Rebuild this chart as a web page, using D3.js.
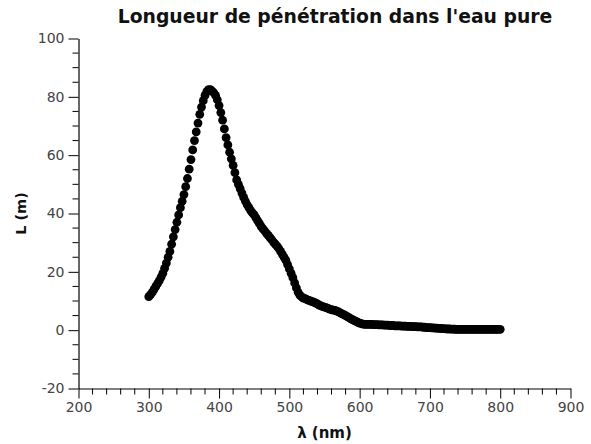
<!DOCTYPE html>
<html>
<head>
<meta charset="utf-8">
<script src="https://cdn.jsdelivr.net/npm/d3@7"></script>
<style>
  html, body { margin: 0; padding: 0; background: #fff; }
  svg { display: block; }
  text { font-family: "DejaVu Sans", sans-serif; }
</style>
</head>
<body>
<svg id="chart" width="591" height="444"></svg>
<script>
// ---- data ----
const title = "Longueur de pénétration dans l'eau pure";
const xLabel = "λ (nm)";
const yLabel = "L (m)";
const xTicks = [200, 300, 400, 500, 600, 700, 800, 900];
const yTicks = [-20, 0, 20, 40, 60, 80, 100];

const wavelength = [
  300,302.5,305,307.5,310,312.5,315,317.5,320,322.5,325,327.5,330,332.5,335,337.5,340,342.5,345,347.5,
  350,352.5,355,357.5,360,362.5,365,367.5,370,372.5,375,377.5,380,382.5,385,387.5,390,392.5,395,397.5,
  400,402.5,405,407.5,410,412.5,415,417.5,420,422.5,425,427.5,430,432.5,435,437.5,440,442.5,445,447.5,
  450,452.5,455,457.5,460,462.5,465,467.5,470,472.5,475,477.5,480,482.5,485,487.5,490,492.5,495,497.5,
  500,502.5,505,507.5,510,512.5,515,517.5,520,522.5,525,527.5,530,532.5,535,537.5,540,542.5,545,547.5,
  550,552.5,555,557.5,560,562.5,565,567.5,570,572.5,575,577.5,580,582.5,585,587.5,590,592.5,595,597.5,
  600,602.5,605,607.5,610,612.5,615,617.5,620,622.5,625,627.5,630,632.5,635,637.5,640,642.5,645,647.5,
  650,652.5,655,657.5,660,662.5,665,667.5,670,672.5,675,677.5,680,682.5,685,687.5,690,692.5,695,697.5,
  700,702.5,705,707.5,710,712.5,715,717.5,720,722.5,725,727.5,730,732.5,735,737.5,740,742.5,745,747.5,
  750,752.5,755,757.5,760,762.5,765,767.5,770,772.5,775,777.5,780,782.5,785,787.5,790,792.5,795,797.5,
  800
];
const penetration = [
  11.5,12.2,13.0,14.0,15.0,16.0,17.0,18.2,19.5,21.2,23.0,25.0,27.0,29.5,32.0,34.5,37.0,39.5,42.0,44.2,
  46.5,49.2,52.0,55.2,58.5,61.8,65.0,68.0,71.0,74.0,76.5,78.7,80.5,81.8,82.5,82.5,82.0,81.4,80.5,79.0,
  77.0,74.6,72.0,69.0,66.0,63.5,61.0,58.7,56.5,54.0,51.5,50.0,48.5,47.0,45.5,44.2,43.0,42.0,41.0,40.2,
  39.5,38.5,37.5,36.5,35.5,34.7,34.0,33.2,32.5,31.7,31.0,30.2,29.5,28.8,28.0,27.0,26.0,25.0,24.0,22.5,
  21.0,19.5,18.0,16.2,14.5,13.0,12.0,11.4,11.0,10.8,10.5,10.2,10.0,9.8,9.6,9.3,9.0,8.6,8.3,8.1,
  7.9,7.7,7.5,7.2,7.0,6.9,6.8,6.5,6.3,5.9,5.6,5.3,5.0,4.6,4.3,3.9,3.6,3.3,3.0,2.7,
  2.4,2.2,2.1,2.0,2.0,2.0,2.0,2.0,1.9,1.9,1.9,1.8,1.8,1.8,1.7,1.7,1.7,1.6,1.6,1.6,
  1.5,1.5,1.5,1.5,1.4,1.4,1.4,1.3,1.3,1.3,1.2,1.2,1.2,1.1,1.1,1.1,1.0,1.0,0.9,0.9,
  0.9,0.8,0.8,0.7,0.7,0.6,0.6,0.5,0.5,0.45,0.4,0.4,0.35,0.33,0.32,0.3,0.3,0.3,0.3,0.3,
  0.3,0.3,0.3,0.3,0.3,0.3,0.3,0.3,0.3,0.3,0.3,0.3,0.3,0.3,0.3,0.3,0.3,0.3,0.3,0.3,
  0.3
];

// ---- layout ----
const svg = d3.select("#chart");
const margin = { left: 78.5, right: 20.5, top: 38.5, bottom: 55.5 };
const W = 591, H = 444;

const x = d3.scaleLinear().domain([200, 900]).range([margin.left, W - margin.right]);
const y = d3.scaleLinear().domain([-20, 100]).range([H - margin.bottom, margin.top]);

// minor ticks
const xMinor = d3.range(200, 901, 20).filter(v => v % 100 !== 0);
const yMinor = d3.range(-20, 101, 5).filter(v => v % 20 !== 0);

// x axis
const gx = svg.append("g").attr("transform", `translate(0,${y(-20)})`);
gx.call(d3.axisBottom(x).tickValues(xTicks).tickFormat(d => String(d))
  .tickSize(10).tickSizeOuter(0).tickPadding(4));
gx.append("g").selectAll("line").data(xMinor).join("line")
  .attr("x1", d => x(d)).attr("x2", d => x(d)).attr("y1", 0).attr("y2", 6)
  .attr("stroke", "#000");

// y axis
const gy = svg.append("g").attr("transform", `translate(${x(200)},0)`);
gy.call(d3.axisLeft(y).tickValues(yTicks).tickFormat(d => String(d))
  .tickSize(10).tickSizeOuter(0).tickPadding(4));
gy.append("g").selectAll("line").data(yMinor).join("line")
  .attr("y1", d => y(d)).attr("y2", d => y(d)).attr("x1", 0).attr("x2", -6)
  .attr("stroke", "#000");

svg.selectAll(".domain").attr("stroke", "#000").attr("stroke-width", 1.2);
svg.selectAll(".tick line").attr("stroke", "#000");
svg.selectAll(".tick text")
  .attr("font-family", "DejaVu Sans, sans-serif")
  .attr("font-size", 14)
  .attr("fill", "#444");

// data points
svg.append("g").selectAll("circle").data(wavelength).join("circle")
  .attr("cx", (d, i) => x(d))
  .attr("cy", (d, i) => y(penetration[i]))
  .attr("r", 4.4)
  .attr("fill", "#000");

// title
svg.append("text")
  .attr("x", 335).attr("y", 23)
  .attr("text-anchor", "middle")
  .attr("font-size", 18.8).attr("font-weight", "bold").attr("fill", "#111")
  .text(title);

// axis labels
svg.append("text")
  .attr("x", x(550)).attr("y", 438)
  .attr("text-anchor", "middle")
  .attr("font-size", 15).attr("font-weight", "bold").attr("fill", "#111")
  .text(xLabel);

svg.append("text")
  .attr("transform", `translate(26,${y(40)}) rotate(-90)`)
  .attr("text-anchor", "middle")
  .attr("font-size", 14.5).attr("font-weight", "bold").attr("fill", "#111")
  .text(yLabel);
</script>
</body>
</html>
